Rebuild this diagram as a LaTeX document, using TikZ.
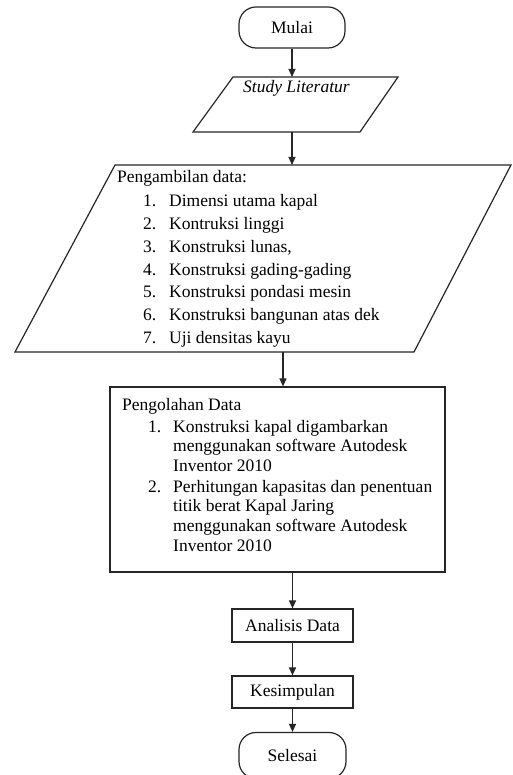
\documentclass[tikz,border=0pt]{standalone}
\usepackage{fontspec}
\setmainfont{Liberation Serif}
\usetikzlibrary{arrows.meta}
\newcommand\fsz{\fontsize{17.5pt}{21pt}\selectfont}
\begin{document}
\begin{tikzpicture}[x=1pt,y=-1pt,
  ln/.style={draw=black!85, line width=1.2pt},
  term/.style={ln, rounded corners=17pt, minimum width=106pt, minimum height=41pt, inner sep=0pt, font=\fsz},
  box/.style={ln, rectangle, inner sep=0pt, font=\fsz},
  txt/.style={anchor=base west, inner sep=0pt, font=\fsz},
  arr/.style={ln, -{Triangle[length=8pt,width=7pt]}}]
\useasboundingbox (0,0) rectangle (512,775);
\fill[white] (0,0) rectangle (512,775);

% Start
\node[term] (mulai) at (292,27.5) {Mulai};

% Study Literatur parallelogram
\draw[ln] (233,77) -- (398,77) -- (360,132) -- (193,132) -- cycle;
\coordinate (studyT) at (292,77);
\coordinate (studyB) at (292,132);
\node[txt] (study) at (243,93) {\itshape Study Literatur};

% Data collection parallelogram
\draw[ln] (115,165) -- (511,165) -- (414,352) -- (15,352) -- cycle;
\coordinate (bigT) at (292,165);
\coordinate (bigB) at (283,352);
\node[txt] (pa0) at (117,183) {Pengambilan data:};
\foreach \t [count=\k] in {{Dimensi utama kapal},{Kontruksi linggi},{Konstruksi lunas,},{Konstruksi gading-gading},{Konstruksi pondasi mesin},{Konstruksi bangunan atas dek},{Uji densitas kayu}}{
  \node[txt] (pn\k) at (143,{207+(\k-1)*22.67}) {\k.};
  \node[txt] (pt\k) at (169,{207+(\k-1)*22.67}) {\t};
}

% Processing box
\node[box, minimum width=335pt, minimum height=185pt] (proc) at (277.5,479.5) {};
\node[txt] (q0) at (122,410) {Pengolahan Data};
\node[txt] (qn1) at (148,432) {1.};
\node[txt] (qa1) at (173,432) {Konstruksi kapal digambarkan};
\node[txt] (qa2) at (173,451.5) {menggunakan software Autodesk};
\node[txt] (qa3) at (173,471) {Inventor 2010};
\node[txt] (qn2) at (148,492) {2.};
\node[txt] (qb1) at (173,492) {Perhitungan kapasitas dan penentuan};
\node[txt] (qb2) at (173,511.5) {titik berat Kapal Jaring};
\node[txt] (qb3) at (173,531) {menggunakan software Autodesk};
\node[txt] (qb4) at (173,551) {Inventor 2010};

% Analysis, conclusion, end
\node[box, minimum width=121pt, minimum height=33pt] (ana) at (292.5,625.5) {Analisis Data};
\node[box, minimum width=121pt, minimum height=32pt] (kes) at (292.5,692) {Kesimpulan};
\node[term, minimum width=107pt, minimum height=46pt] (sel) at (292.5,755.5) {Selesai};

% Connectors
\draw[arr] (mulai.south) -- (studyT);
\draw[arr] (studyB) -- (bigT);
\draw[arr] (bigB) -- (bigB |- proc.north);
\draw[arr] (ana.north |- proc.south) -- (ana.north);
\draw[arr] (ana.south) -- (kes.north);
\draw[arr] (kes.south) -- (sel.north);
\end{tikzpicture}
\end{document}
